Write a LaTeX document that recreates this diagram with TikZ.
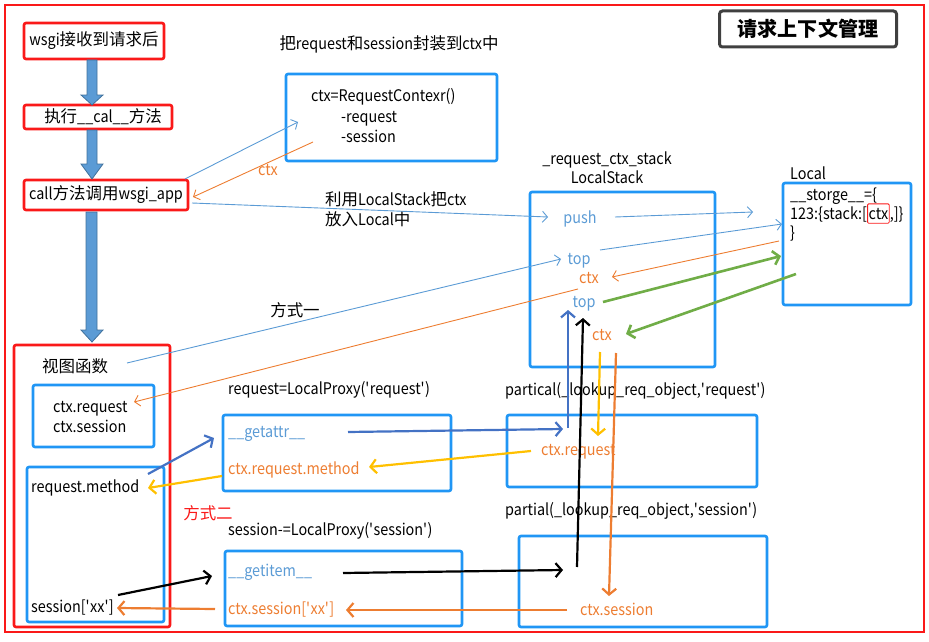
\documentclass[tikz,border=0pt]{standalone}
\usepackage{fontspec}
\setmainfont{Noto Sans CJK SC}[FakeStretch=0.9]
\newfontfamily\cjkfont{Noto Sans CJK SC}[Scale=1.03]
\newcommand{\zh}[1]{{\cjkfont #1}}
\usetikzlibrary{arrows.meta,calc}
\definecolor{framered}{RGB}{250,25,25}
\definecolor{boxblue}{RGB}{32,150,245}
\definecolor{lblue}{RGB}{91,155,213}
\definecolor{orng}{RGB}{237,125,49}
\definecolor{grn}{RGB}{112,173,71}
\definecolor{ylw}{RGB}{255,192,0}
\definecolor{dblue}{RGB}{68,114,196}
\definecolor{tgray}{RGB}{64,64,64}
\definecolor{barfill}{RGB}{91,155,213}
\definecolor{barline}{RGB}{65,113,156}
\newcommand{\sq}{\textquotesingle}
\begin{document}
\begin{tikzpicture}[x=1pt,y=-1pt,
  every node/.style={font=\fontsize{16}{19}\selectfont},
  txt/.style={inner sep=0pt, anchor=base west},
  ctxt/.style={inner sep=0pt, anchor=base},
  redbox/.style={draw=framered, line width=2.6pt, rounded corners=2pt, inner sep=0pt},
  bluebox/.style={draw=boxblue, line width=2.6pt, rounded corners=2pt, inner sep=0pt},
  thinarr/.style={line width=0.9pt, -{Straight Barb[length=5pt,width=11pt]}},
  thickarr/.style={line width=2.2pt, -{Straight Barb[length=6pt,width=14pt]}},
  blockarrow/.style={fill=barfill, draw=barline, line width=0.8pt}
]
\useasboundingbox (0,0) rectangle (929,642);
% outer frame
\draw[framered, line width=2.6pt] (5,5) rectangle (924,632);

% title
\node[draw=tgray, line width=3pt, rounded corners=3pt, minimum width=177pt, minimum height=36pt,
      font=\fontsize{19.5}{24}\selectfont\cjkfont\bfseries] (title) at (808,29) {请求上下文管理};

% left flow
\node[redbox, minimum width=140pt, minimum height=36pt] (b1) at (94,41) {wsgi\zh{接收到请求后}};
\node[redbox, minimum width=148pt, minimum height=24pt] (b2) at (98,117) {\hspace*{10pt}\zh{执行}\_\_cal\_\_\zh{方法}};
\node[redbox, minimum width=164pt, minimum height=30pt] (b3) at (106,195) {call\zh{方法调用}wsgi\_app};

\filldraw[blockarrow] (87,60) -- (87,95) -- (81,95) -- (92,105) -- (103,95) -- (97,95) -- (97,60) -- cycle;
\filldraw[blockarrow] (87,130) -- (87,164) -- (81,164) -- (92,179) -- (103,164) -- (97,164) -- (97,130) -- cycle;
\filldraw[blockarrow] (86,212) -- (86,330) -- (81,330) -- (92,342) -- (103,330) -- (97,330) -- (97,212) -- cycle;

% ctx box
\node[ctxt] (lblwrap) at (389,50) {\zh{把}request\zh{和}session\zh{封装到}ctx\zh{中}};
\node[bluebox, minimum width=211pt, minimum height=87pt] (ctxbox) at (391.5,117.5) {};
\node[txt] (c1) at (311,102) {ctx=RequestContexr()};
\node[txt] (c2) at (341,122) {-request};
\node[txt] (c3) at (341,142) {-session};
\node[ctxt, text=orng] (ctxlbl) at (268,175) {ctx};

\coordinate (a1s) at (185,179);
\coordinate (a1e) at (298,122);
\draw[thinarr, lblue] (a1s) -- (a1e);
\coordinate (a2s) at (313,142);
\coordinate (a2e) at (193,197);
\draw[thinarr, orng] (a2s) -- (a2e);

% LocalStack
\node[ctxt] (rcs) at (607,164) {\_request\_ctx\_stack};
\node[ctxt] (lsl) at (607,183) {LocalStack};
\node[bluebox, minimum width=185pt, minimum height=175pt] (lsbox) at (622.5,279.5) {};
\node[ctxt, text=lblue] (push) at (580,223) {push};
\node[ctxt, text=lblue] (top1) at (579,264) {top};
\node[ctxt, text=orng] (ctx1) at (589,283) {ctx};
\node[ctxt, text=lblue] (top2) at (584,307) {top};
\node[ctxt, text=orng] (ctx2) at (602,340) {ctx};

\node[txt] (put1) at (325,205) {\zh{利用}LocalStack\zh{把}ctx};
\node[txt] (put2) at (325,225) {\zh{放入}Local\zh{中}};

% Local
\node[txt] (locl) at (790,179) {Local};
\node[bluebox, minimum width=128pt, minimum height=122pt] (localbox) at (847,244) {};
\node[txt] (s1) at (790,200) {\_\_storge\_\_=\{};
\node[txt] (s2a) at (790,219) {123:\{stack:[};
\node[txt, draw=framered, line width=0.8pt, inner xsep=1pt, inner ysep=4pt, rounded corners=1pt] (s2b) at (s2a.base east) {ctx};
\node[txt] (s2c) at (s2b.base east) {,]\}};
\node[txt] (s3) at (790,238) {\}};

% arrows in the middle
\coordinate (a3s) at (192,203);
\coordinate (a3e) at (548,217);
\draw[thinarr, lblue] (a3s) -- (a3e);
\coordinate (a4s) at (615,217);
\coordinate (a4e) at (753,212);
\draw[thinarr, lblue] (a4s) -- (a4e);
\coordinate (a6s) at (600,250);
\coordinate (a6e) at (782,224);
\draw[thinarr, lblue] (a6s) -- (a6e);
\coordinate (a7s) at (779,241);
\coordinate (a7e) at (612,277);
\draw[thinarr, orng] (a7s) -- (a7e);
\coordinate (a9s) at (603,302);
\coordinate (a9e) at (781,256);
\draw[thickarr, grn, line width=2.6pt] (a9s) -- (a9e);
\coordinate (a10s) at (796,274);
\coordinate (a10e) at (626,334);
\draw[thickarr, grn, line width=2.6pt] (a10s) -- (a10e);

\node[ctxt] (way1) at (295,316) {\zh{方式一}};

% view function
\node[redbox, minimum width=156pt, minimum height=282pt] (viewbox) at (92,486) {};
\node[txt] (viewlbl) at (42,372) {\zh{视图函数}};
\node[bluebox, minimum width=121pt, minimum height=62pt] (ctxreqbox) at (93.5,416) {};
\node[txt] (cr1) at (53,412) {ctx.request};
\node[txt] (cr2) at (53,432) {ctx.session};
\node[bluebox, minimum width=137pt, minimum height=155pt] (rmbox) at (95.5,544.5) {};
\node[txt] (rm) at (31,492) {request.method};
\node[txt] (sx) at (31,612) {session[\sq xx\sq]};

\coordinate (a5s) at (127,363);
\coordinate (a5e) at (561,259);
\draw[thinarr, lblue] (a5s) -- (a5e);
\coordinate (a8s) at (578,289);
\coordinate (a8e) at (134,402);
\draw[thinarr, orng] (a8s) -- (a8e);

% proxies
\node[ctxt, text=framered] (way2) at (208,519) {\zh{方式二}};
\node[txt] (rlp) at (228,394) {request=LocalProxy(\sq request\sq)};
\node[bluebox, minimum width=228pt, minimum height=76pt] (gabox) at (337,453) {};
\node[txt, text=lblue] (ga) at (228,437) {\_\_getattr\_\_};
\node[txt, text=orng] (crm) at (228,474) {ctx.request.method};
\node[txt] (slp) at (228,535) {session-=LocalProxy(\sq session\sq)};
\node[bluebox, minimum width=237pt, minimum height=75pt] (gibox) at (343.5,588.5) {};
\node[txt, text=lblue] (gi) at (228,576) {\_\_getitem\_\_};
\node[txt, text=orng] (csx) at (228,614) {ctx.session[\sq xx\sq]};

\node[txt] (pr) at (505,395) {partical(\_lookup\_req\_object,\sq request\sq)};
\node[bluebox, minimum width=250pt, minimum height=72pt] (prbox) at (632,451) {};
\node[txt, text=orng] (pcr) at (541,455) {ctx.request};
\node[txt] (ps) at (505,515) {partial(\_lookup\_req\_object,\sq session\sq)};
\node[bluebox, minimum width=248pt, minimum height=91pt] (psbox) at (643,581.5) {};
\node[txt, text=orng] (pcs) at (580,615) {ctx.session};

% thick arrows
\coordinate (b11s) at (148,474);
\coordinate (b11e) at (214,438);
\draw[thickarr, dblue] (b11s) -- (b11e);
\coordinate (b12s) at (348,432);
\coordinate (b12e) at (563,429);
\draw[thickarr, dblue] (b12s) -- (b12e);
\coordinate (b13s) at (568,428);
\coordinate (b13e) at (568,310);
\draw[thickarr, dblue] (b13s) -- (b13e);
\coordinate (y14s) at (600,352);
\coordinate (y14e) at (598,436);
\draw[thickarr, ylw] (y14s) -- (y14e);
\coordinate (y15s) at (531,451);
\coordinate (y15e) at (369,467);
\draw[thickarr, ylw] (y15s) -- (y15e);
\coordinate (y16s) at (222,476);
\coordinate (y16e) at (148,488);
\draw[thickarr, ylw] (y16s) -- (y16e);
\coordinate (k17s) at (118,595);
\coordinate (k17e) at (212,576);
\draw[thickarr, black] (k17s) -- (k17e);
\coordinate (k18s) at (343,573);
\coordinate (k18e) at (563,570);
\draw[thickarr, black] (k18s) -- (k18e);
\coordinate (k19s) at (577,567);
\coordinate (k19e) at (583,318);
\draw[thickarr, black] (k19s) -- (k19e);
\coordinate (o20s) at (616,353);
\coordinate (o20e) at (609,596);
\draw[thickarr, orng] (o20s) -- (o20e);
\coordinate (o21s) at (567,610);
\coordinate (o21e) at (346,610);
\draw[thickarr, orng] (o21s) -- (o21e);
\coordinate (o22s) at (215,609);
\coordinate (o22e) at (117,608);
\draw[thickarr, orng] (o22s) -- (o22e);
\end{tikzpicture}
\end{document}
